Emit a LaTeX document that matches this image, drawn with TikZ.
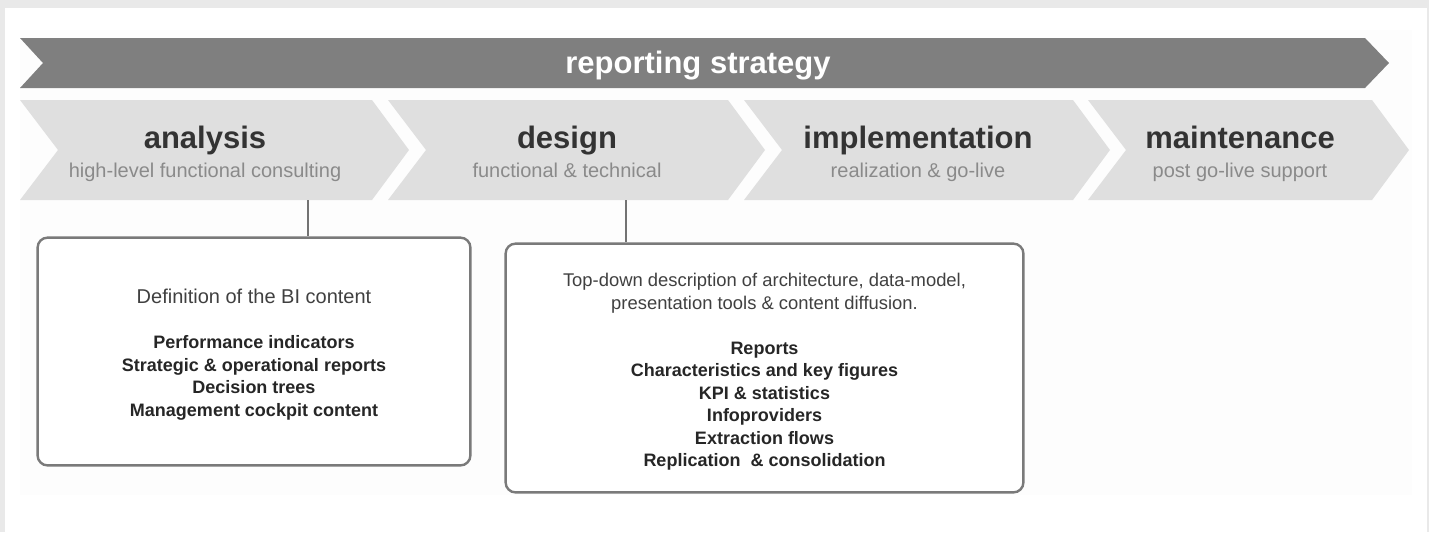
\documentclass[tikz,border=0pt]{standalone}
\usepackage{fontspec}
\setmainfont{Liberation Sans}
\usepackage{tikz}
\definecolor{framegray}{HTML}{E9E9E9}
\definecolor{panelgray}{HTML}{FDFDFD}
\definecolor{bargray}{HTML}{7F7F7F}
\definecolor{phasegray}{HTML}{DFDFDF}
\definecolor{headgray}{HTML}{333333}
\definecolor{subgray}{HTML}{8A8A8A}
\definecolor{boxgray}{HTML}{7A7A7A}
\tikzstyle{bar title}=[anchor=base,inner sep=0pt,text=white,font=\fontsize{15.5}{18}\selectfont\bfseries]
\tikzstyle{phase}=[anchor=base,inner sep=0pt,text=headgray,font=\fontsize{15.5}{18}\selectfont\bfseries]
\tikzstyle{phase sub}=[anchor=base,inner sep=0pt,text=subgray,font=\fontsize{10}{12}\selectfont]
\tikzstyle{content box}=[draw=boxgray,line width=1.2pt,rounded corners=5pt,fill=white,inner sep=0pt,align=center,text=black!75,font=\fontsize{10}{11.25}\selectfont]
\tikzstyle{link}=[draw=black!55,line width=0.7pt]
\newcommand{\keyline}[1]{{\fontsize{9}{11.25}\selectfont\bfseries\color{black!85}#1}}
\newcommand{\toppad}{\rule{0pt}{10.4pt}}

\begin{document}
\begin{tikzpicture}[x=0.5pt,y=-0.5pt]
    % Frame and background
    \fill[framegray] (0,0) rectangle (1429,532);
    \fill[white] (5,8) rectangle (1427,532);
    \fill[panelgray] (20,30) rectangle (1412,495);
    \useasboundingbox (0,0) rectangle (1429,532);

    % The strategy bar on top
    \fill[bargray] (20,38) -- (1365,38) -- (1389,63) -- (1365,88) -- (20,88) -- (43,63) -- cycle;
    \node[bar title] (strategy) at (698,73) {reporting strategy};

    % Then the four phase chevrons
    \foreach \l/\r in {20/372, 388/728, 744/1073, 1088/1372}
        \fill[phasegray] (\l,100) -- (\r,100) -- ++(37,50) -- (\r,200) -- (\l,200) -- ++(38,-50) -- cycle;

    \foreach \x/\name/\sub in {205/analysis/high-level functional consulting, 567/design/functional \& technical, 918/implementation/realization \& go-live, 1240/maintenance/post go-live support}
    {
        \node[phase] (\name) at (\x,148) {\name};
        \node[phase sub] (\name-sub) at (\x,177) {\sub};
    }

    % Content of the first two phases
    \node[content box,minimum width=216.4pt,minimum height=113.9pt] (anabox) at (254,351.5)
        {\toppad Definition of the BI content\\[11.25pt]
         \keyline{Performance indicators}\\
         \keyline{Strategic \& operational reports}\\
         \keyline{Decision trees}\\
         \keyline{Management cockpit content}};
    \node[content box,minimum width=258.9pt,minimum height=124.4pt,
          font=\fontsize{9.2}{11.25}\selectfont] (desbox) at (764.5,368)
        {\toppad Top-down description of architecture, data-model,\\
         presentation tools \& content diffusion.\\[11.25pt]
         \keyline{Reports}\\
         \keyline{Characteristics and key figures}\\
         \keyline{KPI \& statistics}\\
         \keyline{Infoproviders}\\
         \keyline{Extraction flows}\\
         \keyline{Replication\ \ \& consolidation}};

    % Connect phases with their boxes
    \coordinate (analysis-foot) at (308,200);
    \coordinate (design-foot) at (626,200);
    \path[link] (analysis-foot) -- (analysis-foot |- anabox.north);
    \path[link] (design-foot) -- (design-foot |- desbox.north);
\end{tikzpicture}
\end{document}
